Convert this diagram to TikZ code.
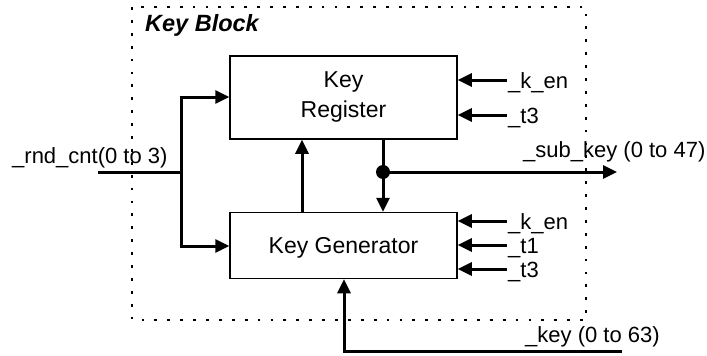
\documentclass[tikz,border=0pt]{standalone}
\usepackage{fontspec}
\setmainfont{Liberation Sans}
\usetikzlibrary{arrows.meta}
\begin{document}
\begin{tikzpicture}[x=1pt,y=-1pt,
  blk/.style={draw,line width=1.5pt,inner sep=0pt},
  wire/.style={line width=3pt},
  arr/.style={line width=3pt,-{Triangle[length=14pt,width=13pt]}},
  lbl/.style={inner sep=0pt,anchor=base west,font=\fontsize{22}{26}\selectfont},
  boxtxt/.style={inner sep=0pt,align=center,font=\fontsize{23}{30}\selectfont}]
\useasboundingbox (0,0) rectangle (707,356);
% outer dotted block
\draw[line width=2.6pt,dash pattern=on 2.8pt off 10.1pt] (132,7) rectangle (586,320);
\node[inner sep=0pt,anchor=base west,font=\fontsize{23.5}{28}\selectfont\bfseries\itshape] (title) at (145,31) {Key Block};
% blocks
\node[blk,minimum width=227pt,minimum height=83pt] (reg) at (343.5,97.5) {};
\node[boxtxt] (regt) at (343.5,97) {Key\\Register};
\node[blk,minimum width=227pt,minimum height=66pt] (gen) at (343.5,245.5) {};
\node[boxtxt,anchor=base] (gent) at (343.5,253) {Key Generator};
% coordinates
\coordinate (rin) at (98,172);
\coordinate (rj) at (181,172);
\coordinate (rt) at (181,97);
\coordinate (rb) at (181,246);
\coordinate (dot) at (383,172);
\coordinate (skend) at (617,172);
\coordinate (kstart) at (622,351);
\coordinate (kcorner) at (344,351);
% rnd_cnt input
\node[lbl] (rnd) at (12,163) {\_rnd\_cnt(0 to 3)};
\draw[wire] (rin) -- (rj);
\draw[wire] (rt) -- (rb);
\draw[arr] ([xshift=-1.5pt]rt) -- (reg.west |- rt);
\draw[arr] ([xshift=-1.5pt]rb) -- (gen.west |- rb);
% generator to register
\draw[arr] (gen.north -| 302,0) -- (reg.south -| 302,0);
% register output
\draw[wire] (reg.south -| dot) -- (dot);
\draw[arr] (dot) -- (gen.north -| dot);
\draw[arr] (dot) -- (skend);
\fill (dot) circle (7pt);
\node[lbl] (sk) at (523,157) {\_sub\_key (0 to 47)};
% register control inputs
\coordinate (r1) at (507,80);
\coordinate (r2) at (507,115);
\draw[arr] (r1) -- (reg.east |- r1);
\draw[arr] (r2) -- (reg.east |- r2);
\node[lbl] (rken) at (508,88) {\_k\_en};
\node[lbl] (rt3) at (508,123) {\_t3};
% generator control inputs
\coordinate (g1) at (507,221);
\coordinate (g2) at (507,245);
\coordinate (g3) at (507,269);
\draw[arr] (g1) -- (gen.east |- g1);
\draw[arr] (g2) -- (gen.east |- g2);
\draw[arr] (g3) -- (gen.east |- g3);
\node[lbl] (gken) at (508,229) {\_k\_en};
\node[lbl] (gt1) at (508,253) {\_t1};
\node[lbl] (gt3) at (508,277) {\_t3};
% key input
\draw[wire] (kstart) -- ([xshift=-1.5pt]kcorner);
\draw[arr] (kcorner) -- (gen.south -| kcorner);
\node[lbl] (key) at (525,342) {\_key (0 to 63)};
\end{tikzpicture}
\end{document}
